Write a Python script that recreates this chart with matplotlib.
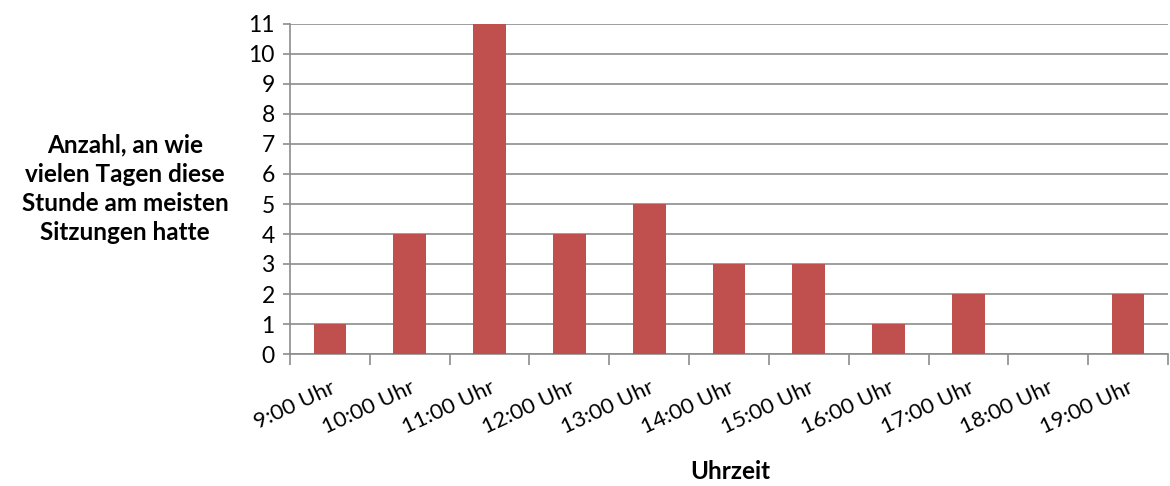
import matplotlib
matplotlib.use("Agg")
import matplotlib.pyplot as plt
import numpy as np

categories = ["9:00 Uhr", "10:00 Uhr", "11:00 Uhr", "12:00 Uhr", "13:00 Uhr", "14:00 Uhr",
              "15:00 Uhr", "16:00 Uhr", "17:00 Uhr", "18:00 Uhr", "19:00 Uhr"]
values = [1, 4, 11, 4, 5, 3, 3, 1, 2, 0, 2]
yticks = list(range(0, 12))

plt.rcParams['font.family'] = ['Lato', 'DejaVu Sans']
plt.rcParams['font.style'] = 'normal'

fig = plt.figure(figsize=(11.7, 4.86), dpi=100)
ax = fig.add_axes([290/1170, 1-354/486, 878/1170, 330/486])

x = np.arange(len(categories))
ax.bar(x, values, width=0.41, color="#C0504D", zorder=3)

ax.set_xlim(-0.5, len(categories) - 0.5)
ax.set_ylim(0, 11)
ax.set_yticks(yticks)
ax.set_yticklabels([str(t) for t in yticks], fontsize=16.5, fontstyle='normal')
ax.yaxis.grid(True, color="#8C8C8C", linewidth=1.2, zorder=0)
ax.tick_params(axis='y', length=5, color="#8C8C8C", width=1.2, pad=6)

ax.set_xticks(x)
ax.set_xticklabels(categories, rotation=25, ha='right', rotation_mode='anchor',
                   fontsize=16, fontstyle='normal')
ax.tick_params(axis='x', which='major', length=0, pad=17)
ax.set_xticks(np.arange(-0.5, len(categories) + 0.5, 1), minor=True)
ax.tick_params(axis='x', which='minor', length=8, color="#8C8C8C", width=1.2)

for s in ['top', 'right']:
    ax.spines[s].set_visible(False)
for s in ['left', 'bottom']:
    ax.spines[s].set_color("#8C8C8C")
    ax.spines[s].set_linewidth(1.2)

fig.text(125/1170, 1-189/486, "Anzahl, an wie\nvielen Tagen diese\nStunde am meisten\nSitzungen hatte",
         ha='center', va='center', fontsize=17.5, fontweight='bold', fontstyle='normal', linespacing=1.33)
fig.text(730/1170, 1-471/486, "Uhrzeit", ha='center', va='center', fontsize=17.5,
         fontweight='bold', fontstyle='normal')

fig.savefig("out.png", dpi=100)
